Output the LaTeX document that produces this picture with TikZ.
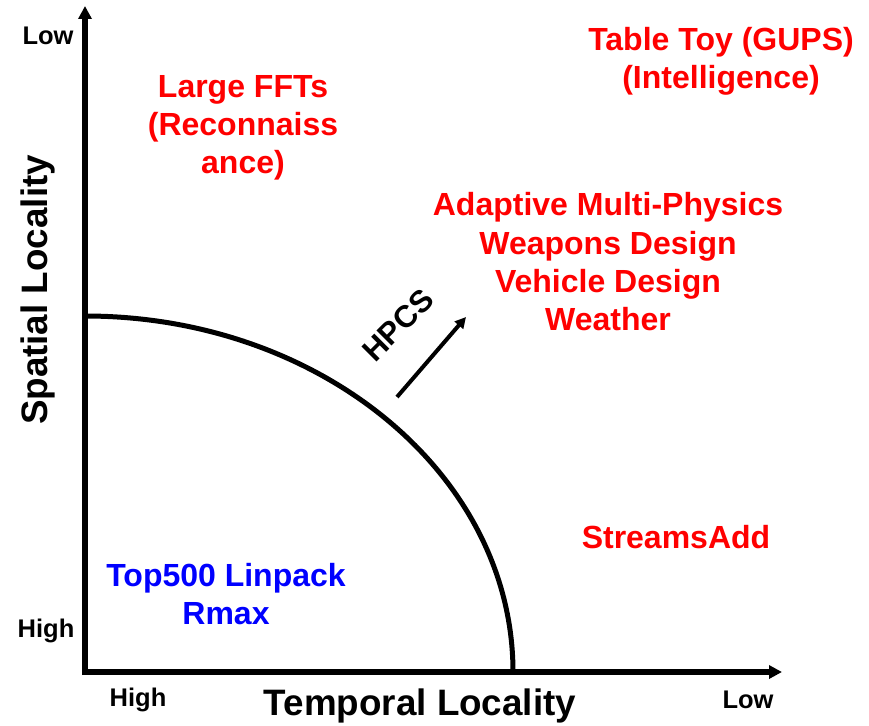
\documentclass[tikz,border=0pt]{standalone}
\usepackage{fontspec}
\setmainfont{Liberation Sans}
\usepackage{xcolor}
\usetikzlibrary{arrows.meta,positioning}
\definecolor{hired}{RGB}{255,0,0}
\definecolor{hiblue}{RGB}{0,0,255}
\tikzset{
  axis/.style={line width=6pt,-{Triangle[length=13pt,width=13pt]}},
  lab/.style={font=\bfseries\fontsize{25.5}{30}\selectfont,inner sep=0pt},
  big/.style={font=\bfseries\fontsize{36.8}{44}\selectfont,inner sep=0pt},
  app/.style={font=\bfseries\fontsize{32}{38.3}\selectfont,inner sep=0pt,align=center,text=hired}
}
\begin{document}
\begin{tikzpicture}[x=1pt,y=-1pt]
\useasboundingbox (0,0) rectangle (869,725);
% axes
\coordinate (O) at (85,672);
\coordinate (ytip) at (85,6);
\coordinate (xtip) at (782,672);
\draw[axis]([yshift=-3pt]O)--(ytip);
\draw[axis]([xshift=-3pt]O)--(xtip);
\node[lab](lowy) at (48,36){Low};
\node[lab](highy) at (46,631){High};
\node[lab](highx) at (138,700){High};
\node[lab](lowx) at (748,700){Low};
\node[big](tloc) at (420,706){Temporal Locality};
\node[big,rotate=90](sloc) at (38,290){Spatial Locality};
% boundary
\draw[line width=5pt](85,316) arc[start angle=270,end angle=360,x radius=428,y radius=356];
% arrow
\coordinate (hpcsa) at (397,397);
\coordinate (hpcsb) at (466,317);
\draw[line width=4pt,-{Triangle[length=11pt,width=11pt]}](hpcsa)--(hpcsb);
\node[lab,font=\bfseries\fontsize{31}{36}\selectfont,rotate=45](hpcs) at (398,325){HPCS};
% applications
\node[app](fft) at (243,128){Large FFTs\\(Reconnaiss\\ance)};
\node[app](gups) at (721,61){Table Toy (GUPS)\\(Intelligence)};
\node[app](amp) at (608,262){Adaptive Multi-Physics\\Weapons Design\\Vehicle Design\\Weather};
\node[app](stream) at (676,537){StreamsAdd};
\node[app,text=hiblue](linpack) at (226,594){Top500 Linpack\\Rmax};
\end{tikzpicture}
\end{document}
